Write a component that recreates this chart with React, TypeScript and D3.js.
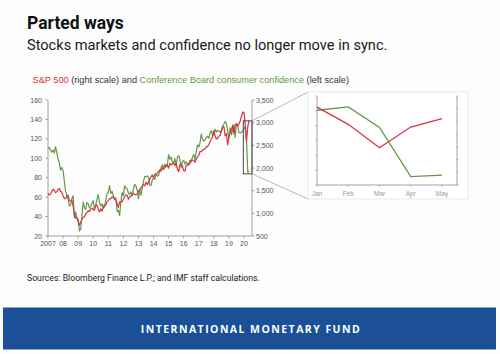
import React from "react";
import * as d3 from "d3";

const years = [2007, 2008, 2009, 2010, 2011, 2012, 2013, 2014, 2015, 2016, 2017, 2018, 2019, 2020];
const yearLabels = ["2007", "08", "09", "10", "11", "12", "13", "14", "15", "16", "17", "18", "19", "20"];

// Conference Board consumer confidence, monthly Jan 2007 - May 2020 (left scale)
const confidence = [
  110.2, 111.2, 108.2, 106.3, 108.5, 105.3, 111.9, 105.6, 99.5, 95.2, 87.8, 90.6,
  87.3, 76.4, 65.9, 62.8, 58.1, 51.0, 51.9, 58.5, 61.4, 38.8, 44.7, 38.6,
  37.4, 25.3, 26.9, 40.8, 54.8, 49.3, 47.4, 54.5, 53.4, 48.7, 50.6, 53.6,
  56.5, 46.4, 52.3, 57.7, 62.7, 54.3, 51.0, 53.2, 48.6, 49.9, 57.8, 63.4,
  64.8, 72.0, 63.8, 66.0, 61.7, 57.6, 59.2, 45.2, 46.4, 40.9, 55.2, 64.8,
  61.5, 71.6, 69.5, 68.7, 64.4, 62.7, 65.4, 61.3, 68.4, 73.1, 71.5, 66.7,
  58.4, 68.0, 61.9, 69.0, 76.2, 81.4, 81.0, 81.8, 80.2, 72.4, 72.0, 77.5,
  79.4, 78.3, 83.9, 81.7, 82.2, 86.4, 90.3, 93.4, 89.0, 94.1, 91.0, 93.1,
  103.8, 98.8, 101.4, 95.2, 95.4, 99.8, 91.0, 101.3, 102.6, 99.1, 90.4, 96.3,
  97.8, 94.0, 96.2, 94.2, 92.6, 98.0, 96.7, 101.1, 104.1, 98.6, 107.1, 113.7,
  111.6, 116.1, 124.9, 119.4, 117.6, 118.9, 121.1, 122.9, 120.6, 126.2, 128.6, 123.1,
  124.3, 130.0, 127.0, 128.7, 128.0, 127.1, 127.9, 133.4, 135.3, 137.9, 135.7, 128.1,
  120.2, 131.4, 124.2, 129.2, 134.1, 121.5, 135.7, 134.2, 126.3, 126.1, 126.8, 128.2,
  130.4, 132.6, 118.8, 85.7, 86.6,
];

// S&P 500, monthly Jan 2007 - May 2020 (right scale)
const sp500 = [
  1438, 1407, 1421, 1482, 1531, 1503, 1455, 1474, 1527, 1549, 1481, 1468,
  1379, 1331, 1323, 1386, 1400, 1280, 1267, 1283, 1166, 969, 896, 903,
  826, 735, 798, 873, 919, 919, 987, 1021, 1057, 1036, 1096, 1115,
  1074, 1104, 1169, 1187, 1089, 1031, 1102, 1049, 1141, 1183, 1181, 1258,
  1286, 1327, 1326, 1364, 1345, 1321, 1292, 1219, 1131, 1253, 1247, 1258,
  1312, 1366, 1408, 1398, 1310, 1362, 1379, 1407, 1441, 1412, 1416, 1426,
  1498, 1515, 1569, 1598, 1631, 1606, 1686, 1633, 1682, 1757, 1806, 1848,
  1783, 1859, 1872, 1884, 1924, 1960, 1931, 2003, 1972, 2018, 2068, 2059,
  1995, 2105, 2068, 2086, 2107, 2063, 2104, 1972, 1920, 2079, 2080, 2044,
  1940, 1932, 2060, 2065, 2097, 2099, 2174, 2171, 2168, 2126, 2199, 2239,
  2279, 2364, 2363, 2384, 2412, 2423, 2470, 2472, 2519, 2575, 2648, 2674,
  2824, 2714, 2641, 2648, 2705, 2718, 2816, 2902, 2914, 2712, 2760, 2507,
  2704, 2784, 2834, 2946, 2752, 2942, 2980, 2926, 2977, 3038, 3141, 3231,
  3226, 2954, 2585, 2912, 3044,
];

const leftTicks = [20, 40, 60, 80, 100, 120, 140, 160];
const rightTicks = [500, 1000, 1500, 2000, 2500, 3000, 3500];

const insetMonths = ["Jan", "Feb", "Mar", "Apr", "May"];
const insetConfidence = [130.4, 132.6, 118.8, 85.7, 86.6];
const insetSp500 = [3226, 2954, 2585, 2912, 3044];
const insetLeftTicks = [80, 90, 100, 110, 120, 130, 140];
const insetRightTicks = [2000, 2200, 2400, 2600, 2800, 3000, 3200, 3400];

// zoom box range on left scale
const zoomBoxLow = 84;
const zoomBoxHigh = 138.5;

const RED = "#d9323f";
const GREEN = "#63984a";
const AXIS = "#8a8a8a";
const LABEL = "#555";

export default function App() {
  const W = 500, H = 354;
  const x = d3.scaleLinear().domain([2007, 2020]).range([48, 244]);
  const yL = d3.scaleLinear().domain([20, 160]).range([236, 100]);
  const yR = d3.scaleLinear().domain([500, 3500]).range([236, 100]);
  const t = (i: number) => 2007 + i / 12;
  const confLine = d3.line<number>().x((_, i) => x(t(i))).y((d) => yL(d));
  const spLine = d3.line<number>().x((_, i) => x(t(i))).y((d) => yR(d));
  const plotLeft = 48, plotRight = 252;
  const boxX0 = x(t(12 * 13)) - 0.7;
  const boxX1 = plotRight;
  const boxY0 = yL(zoomBoxHigh);
  const boxY1 = yL(zoomBoxLow);

  const ix = d3.scaleLinear().domain([0, 4]).range([317, 442]);
  const iyL = d3.scaleLinear().domain([80, 140]).range([185, 96]);
  const iyR = d3.scaleLinear().domain([2000, 3400]).range([185, 96]);
  const insetLeft = 317, insetRight = 457, insetTop = 96, insetBottom = 185;
  const iConf = d3.line<number>().x((_, i) => ix(i)).y((d) => iyL(d));
  const iSp = d3.line<number>().x((_, i) => ix(i)).y((d) => iyR(d));

  const chartFont = "'Liberation Sans', Arial, sans-serif";

  return (
    <svg width={W} height={H} style={{ position: "absolute", left: 0, top: 0, background: "#fdfdfd" }}>
      <rect x={0} y={0} width={W} height={H} fill="#fdfdfd" />
      <text x={27} y={29} fontFamily="Roboto, sans-serif" fontWeight={700} fontSize={17.5} fill="#111">
        Parted ways
      </text>
      <text x={27} y={49.5} fontFamily="Roboto, sans-serif" fontSize={14.6} fill="#1a1a1a">
        Stocks markets and confidence no longer move in sync.
      </text>

      <text x={32.5} y={83} fontFamily={chartFont} fontSize={9.2} fill="#333">
        <tspan fill={RED}>S&amp;P 500</tspan>
        <tspan> (right scale) and </tspan>
        <tspan fill={GREEN}>Conference Board consumer confidence</tspan>
        <tspan> (left scale)</tspan>
      </text>

      <line x1={plotLeft} x2={plotLeft} y1={100} y2={236} stroke={AXIS} strokeWidth={0.8} />
      <line x1={plotRight} x2={plotRight} y1={100} y2={236} stroke={AXIS} strokeWidth={0.8} />
      <line x1={plotLeft} x2={plotRight} y1={236} y2={236} stroke={AXIS} strokeWidth={0.8} />
      {leftTicks.map((v) => (
        <g key={"l" + v}>
          <line x1={plotLeft - 2.5} x2={plotLeft} y1={yL(v)} y2={yL(v)} stroke={AXIS} strokeWidth={0.8} />
          <text x={plotLeft - 6} y={yL(v) + 2.6} textAnchor="end" fontFamily={chartFont} fontSize={7} fill={LABEL}>
            {v}
          </text>
        </g>
      ))}
      {rightTicks.map((v) => (
        <g key={"r" + v}>
          <line x1={plotRight} x2={plotRight + 2.5} y1={yR(v)} y2={yR(v)} stroke={AXIS} strokeWidth={0.8} />
          <text x={plotRight + 4} y={yR(v) + 2.6} fontFamily={chartFont} fontSize={7} fill={LABEL}>
            {d3.format(",")(v)}
          </text>
        </g>
      ))}
      {years.map((yr, i) => (
        <g key={"x" + yr}>
          <line x1={x(yr)} x2={x(yr)} y1={236} y2={238.5} stroke={AXIS} strokeWidth={0.8} />
          <text x={x(yr)} y={246} textAnchor="middle" fontFamily={chartFont} fontSize={7} fill={LABEL}>
            {yearLabels[i]}
          </text>
        </g>
      ))}

      <path d={confLine(confidence) || ""} fill="none" stroke={GREEN} strokeWidth={1.2} strokeLinejoin="round" />
      <path d={spLine(sp500) || ""} fill="none" stroke={RED} strokeWidth={1.2} strokeLinejoin="round" />

      <rect x={boxX0} y={boxY0} width={boxX1 - boxX0} height={boxY1 - boxY0} fill="none" stroke="#333" strokeWidth={0.9} />
      <line x1={boxX1} y1={boxY0} x2={308} y2={92} stroke="#999" strokeWidth={0.7} />
      <line x1={boxX1} y1={boxY1} x2={308} y2={199} stroke="#999" strokeWidth={0.7} />

      <rect x={308} y={92} width={160} height={107} fill="#fff" stroke="#e4e4e4" strokeWidth={0.8} />
      <line x1={insetLeft} x2={insetLeft} y1={insetTop} y2={insetBottom} stroke={AXIS} strokeWidth={0.8} />
      <line x1={insetRight} x2={insetRight} y1={insetTop} y2={insetBottom} stroke={AXIS} strokeWidth={0.8} />
      <line x1={insetLeft} x2={insetRight} y1={insetBottom} y2={insetBottom} stroke={AXIS} strokeWidth={0.8} />
      {insetLeftTicks.map((v) => (
        <line key={"il" + v} x1={insetLeft - 1.5} x2={insetLeft} y1={iyL(v)} y2={iyL(v)} stroke={AXIS} strokeWidth={0.7} />
      ))}
      {insetRightTicks.map((v) => (
        <line key={"ir" + v} x1={insetRight} x2={insetRight + 1.5} y1={iyR(v)} y2={iyR(v)} stroke={AXIS} strokeWidth={0.7} />
      ))}
      {insetMonths.map((m, i) => (
        <g key={m}>
          <line x1={ix(i)} x2={ix(i)} y1={insetBottom} y2={insetBottom + 1.5} stroke={AXIS} strokeWidth={0.7} />
          <text x={ix(i)} y={195.5} textAnchor="middle" fontFamily={chartFont} fontSize={6.5} fill="#999">
            {m}
          </text>
        </g>
      ))}
      <path d={iConf(insetConfidence) || ""} fill="none" stroke={GREEN} strokeWidth={1.3} />
      <path d={iSp(insetSp500) || ""} fill="none" stroke={RED} strokeWidth={1.3} />

      <text x={27} y={281} fontFamily="Roboto, sans-serif" fontSize={8.7} fill="#222">
        Sources: Bloomberg Finance L.P.; and IMF staff calculations.
      </text>

      <rect x={3} y={307.5} width={493} height={42} fill="#1b4f98" />
      <text x={251} y={333} textAnchor="middle" fontFamily="'Open Sans', sans-serif" fontWeight={700} fontSize={10.5} letterSpacing={1.45} fill="#fff">
        INTERNATIONAL MONETARY FUND
      </text>
    </svg>
  );
}
